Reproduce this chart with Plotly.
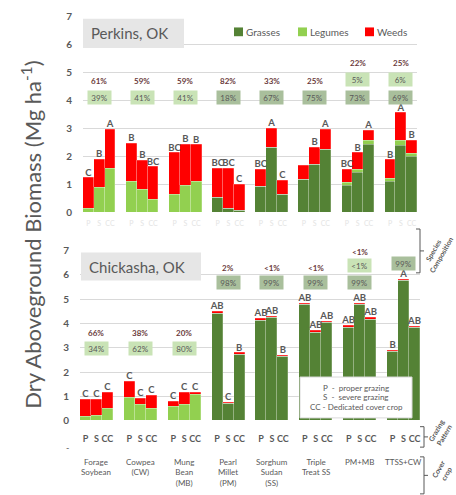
import plotly.graph_objects as go

W, H = 456, 495
def xp(px): return px / W
def yp(py): return 1 - py / H

# ---------------- data ----------------
groups = ["Forage<br>Soybean", "Cowpea<br>(CW)", "Mung<br>Bean<br>(MB)", "Pearl<br>Millet<br>(PM)",
          "Sorghum<br>Sudan<br>(SS)", "Triple<br>Treat SS", "PM+MB", "TTSS+CW"]
grazing = ["P", "S", "CC"]
components = ["Grasses", "Legumes", "Weeds"]

# Perkins, OK (Mg/ha), order: group x (P, S, CC)
perk_grass = [0, 0, 0, 0, 0, 0, 0, 0, 0, 0.52, 0.15, 0.06, 0.93, 2.33, 0.65, 1.16, 1.70, 2.24,
              0.97, 1.43, 2.44, 1.11, 2.38, 1.99]
perk_leg = [0.15, 0.88, 1.58, 1.11, 0.81, 0.46, 0.62, 0.97, 1.11, 0, 0, 0, 0, 0, 0, 0, 0, 0,
            0.09, 0.11, 0.11, 0.11, 0.19, 0.11]
perk_weed = [1.08, 1.01, 1.38, 1.36, 1.05, 1.17, 1.51, 1.47, 1.30, 1.06, 1.42, 0.93, 0.61, 0.66, 0.49,
             0.50, 0.63, 0.72, 0.48, 0.59, 0.37, 0.65, 0.98, 0.47]
perk_letters = ["C", "B", "A", "B", "B", "BC", "BC", "B", "B", "BC", "BC", "C", "BC", "A", "C",
                "", "B", "A", "BC", "B", "A", "B", "A", "B"]
perk_weed_pct = ["61%", "59%", "59%", "82%", "33%", "25%", "22%", "25%"]
perk_leg_pct = ["39%", "41%", "41%", "", "", "", "5%", "6%"]
perk_grass_pct = ["", "", "", "18%", "67%", "75%", "73%", "69%"]

# Chickasha, OK
chick_grass = [0, 0, 0, 0, 0, 0, 0, 0, 0, 4.40, 0.71, 2.71, 4.13, 4.25, 2.64, 4.77, 3.63, 4.03,
               3.85, 4.78, 4.15, 2.85, 5.76, 3.82]
chick_leg = [0.20, 0.23, 0.51, 0.98, 0.67, 0.51, 0.60, 0.69, 1.08, 0, 0, 0, 0, 0, 0, 0, 0, 0,
             0, 0, 0.03, 0, 0, 0]
chick_weed = [0.67, 0.64, 0.67, 0.62, 0.27, 0.54, 0.18, 0.47, 0.10, 0.08, 0.06, 0.08, 0.07, 0.05, 0.06,
              0.07, 0.08, 0.05, 0.06, 0.06, 0.06, 0.04, 0.05, 0.05]
chick_letters = ["C", "C", "C", "C", "C", "C", "C", "C", "C", "AB", "C", "B", "AB", "AB", "B",
                 "AB", "AB", "AB", "AB", "AB", "AB", "B", "A", "AB"]
chick_weed_pct = ["66%", "38%", "20%", "2%", "<1%", "<1%", "<1%", "<1%"]
chick_leg_pct = ["34%", "62%", "80%", "", "", "", "<1%", "<1%"]
chick_grass_pct = ["", "", "", "98%", "99%", "99%", "99%", "99%"]

key_lines = ["P  -  proper grazing", "S  -  severe grazing", "CC - Dedicated cover crop"]

# ---------------- style ----------------
COLORS = {"Grasses": "#548235", "Legumes": "#92d050", "Weeds": "#ff0000"}
BOX_LEG, BOX_GRASS = "#c9e3b6", "#a9bf9c"
GRAY = "#595959"
FONT = "Lato"

xs = [g * 4 + i for g in range(8) for i in range(3)]
ticktext = [grazing[i] for g in range(8) for i in range(3)]

fig = go.Figure()

def add_stack(grass, leg, weed, letters, xa, ya):
    for name, vals in zip(components, [grass, leg, weed]):
        fig.add_trace(go.Bar(x=xs, y=vals, name=name,
                             marker=dict(color=COLORS[name], line=dict(color="rgba(255,255,255,0.35)", width=0.6)),
                             width=1.0, xaxis=xa, yaxis=ya, showlegend=False))
    tot = [a + b + c for a, b, c in zip(grass, leg, weed)]
    fig.add_trace(go.Scatter(x=xs, y=tot, text=letters, mode="text", textposition="top center",
                             textfont=dict(size=9.5, color=GRAY, family=FONT, weight="bold"),
                             xaxis=xa, yaxis=ya, showlegend=False, cliponaxis=False, hoverinfo="skip"))

add_stack(perk_grass, perk_leg, perk_weed, perk_letters, "x", "y")
add_stack(chick_grass, chick_leg, chick_weed, chick_letters, "x2", "y2")

ann = []
def A(**kw):
    kw.setdefault("showarrow", False)
    kw.setdefault("xanchor", "center")
    kw.setdefault("yanchor", "middle")
    ann.append(kw)

def comp(weed_pct, leg_pct, grass_pct, xr, yr, ypos):
    for g in range(8):
        cx = g * 4 + 1
        yw, yl, yg = ypos[g]
        A(x=cx, y=yw, xref=xr, yref=yr, text=weed_pct[g],
          font=dict(size=8, color="#6b3b3b", family=FONT, weight="bold"))
        if leg_pct[g]:
            A(x=cx, y=yl, xref=xr, yref=yr, text=leg_pct[g], bgcolor=BOX_LEG, width=21, height=11,
              borderpad=1, font=dict(size=8, color=GRAY, family=FONT))
        if grass_pct[g]:
            A(x=cx, y=yg, xref=xr, yref=yr, text=grass_pct[g], bgcolor=BOX_GRASS, width=21, height=11,
              borderpad=1, font=dict(size=8, color=GRAY, family=FONT))

perk_pos = [(4.70, 4.11, 4.11)] * 6 + [(5.33, 4.74, 4.11)] * 2
chick_pos = [(3.6, 2.96, 2.96)] * 3 + [(6.28, 5.68, 5.68)] * 3 + [(6.92, 6.40, 5.68), (7.72, 7.08, 6.48)]
comp(perk_weed_pct, perk_leg_pct, perk_grass_pct, "x", "y", perk_pos)
comp(chick_weed_pct, chick_leg_pct, chick_grass_pct, "x2", "y2", chick_pos)

# group names
for g, name in enumerate(groups):
    A(x=g * 4 + 1, y=yp(460), xref="x2", yref="paper", text=name, yanchor="top", align="center",
      font=dict(size=8, color=GRAY, family=FONT))

# site titles
A(x=xp(89), y=yp(27), xref="paper", yref="paper", text="Perkins, OK", xanchor="left",
  font=dict(size=15, color=GRAY, family=FONT))
A(x=xp(87), y=yp(267), xref="paper", yref="paper", text="Chickasha, OK", xanchor="left",
  font=dict(size=15, color=GRAY, family=FONT))
# y title
A(x=xp(32), y=yp(234), xref="paper", yref="paper",
  text="Dry Aboveground Biomass (Mg ha<sup>-1</sup>)", textangle=-90,
  font=dict(size=22, color=GRAY, family=FONT))
# key box text
for i, t in enumerate(key_lines):
    A(x=xp(356), y=yp(391 + 10 * i), xref="paper", yref="paper", text=t,
      font=dict(size=8, color=GRAY, family=FONT))
A(x=xp(67), y=yp(452), xref="paper", yref="paper", text="-", font=dict(size=9, color=GRAY, family=FONT))
# bracket labels
for t, xx, yy in [("Species<br>Composition", 437, 252), ("Grazing<br>Pattern", 440, 437), ("Cover<br>crop", 442, 477)]:
    A(x=xp(xx), y=yp(yy), xref="paper", yref="paper", text=t, textangle=-60,
      font=dict(size=7, color=GRAY, family=FONT, weight="bold"))

shapes = [
    dict(type="rect", xref="paper", yref="paper", x0=xp(83), x1=xp(184), y0=yp(42), y1=yp(12),
         fillcolor="#e6e6e6", line=dict(width=0), layer="above"),
    dict(type="rect", xref="paper", yref="paper", x0=xp(81), x1=xp(201), y0=yp(281), y1=yp(252),
         fillcolor="#e6e6e6", line=dict(width=0), layer="above"),
    dict(type="rect", xref="paper", yref="paper", x0=xp(300), x1=xp(412), y0=yp(422), y1=yp(380),
         fillcolor="white", line=dict(width=1, color="#d9d9d9"), layer="above"),
]

# manual legend (top chart)
for name, mx in zip(components, [234, 298, 365]):
    shapes.append(dict(type="rect", xref="paper", yref="paper", x0=xp(mx), x1=xp(mx + 9),
                       y0=yp(30), y1=yp(21), fillcolor=COLORS[name], line=dict(width=0), layer="above"))
    A(x=xp(mx + 10), y=yp(25.5), xref="paper", yref="paper", text=name, xanchor="left",
      font=dict(size=10, color=GRAY, family=FONT))

def bracket(x, y0, y1):
    shapes.append(dict(type="path", xref="paper", yref="paper",
                       path=f"M {xp(x-4)} {yp(y0)} L {xp(x)} {yp(y0)} L {xp(x)} {yp(y1)} L {xp(x-4)} {yp(y1)}",
                       line=dict(color=GRAY, width=1)))
    ym = (y0 + y1) / 2
    shapes.append(dict(type="line", xref="paper", yref="paper", x0=xp(x), x1=xp(x + 4), y0=yp(ym), y1=yp(ym),
                       line=dict(color=GRAY, width=1)))
bracket(420, 228, 273)
bracket(424, 431, 452)
bracket(424, 462, 500)

ax_common = dict(range=[-0.5, 30.5], showgrid=False, zeroline=False, tickmode="array", tickvals=xs,
                 ticktext=ticktext, ticks="outside", tickcolor="rgba(0,0,0,0)", showline=False)
y_common = dict(range=[0, 7], dtick=1, showgrid=True, gridcolor="#d9d9d9", gridwidth=1, zeroline=False,
                ticks="outside", ticklen=8, tickcolor="rgba(0,0,0,0)",
                tickfont=dict(size=10, color=GRAY, family=FONT, weight="bold"))

fig.update_layout(
    width=W, height=H, margin=dict(l=0, r=0, t=0, b=0),
    paper_bgcolor="white", plot_bgcolor="white", barmode="stack", bargap=0,
    font=dict(family=FONT, color=GRAY),
    xaxis=dict(domain=[xp(83), xp(417)], anchor="y", ticklen=4,
               tickfont=dict(size=7, color="#e4e4e4", family=FONT), **ax_common),
    yaxis=dict(domain=[yp(211), yp(10)], anchor="x", **y_common),
    xaxis2=dict(domain=[xp(80), xp(420)], anchor="y2", ticklen=9,
                tickfont=dict(size=9, color=GRAY, family=FONT, weight="bold"), **ax_common),
    yaxis2=dict(domain=[yp(425), yp(250)], anchor="x2", **y_common),
    annotations=ann, shapes=shapes, showlegend=False,
)

fig.write_html("out.html")
